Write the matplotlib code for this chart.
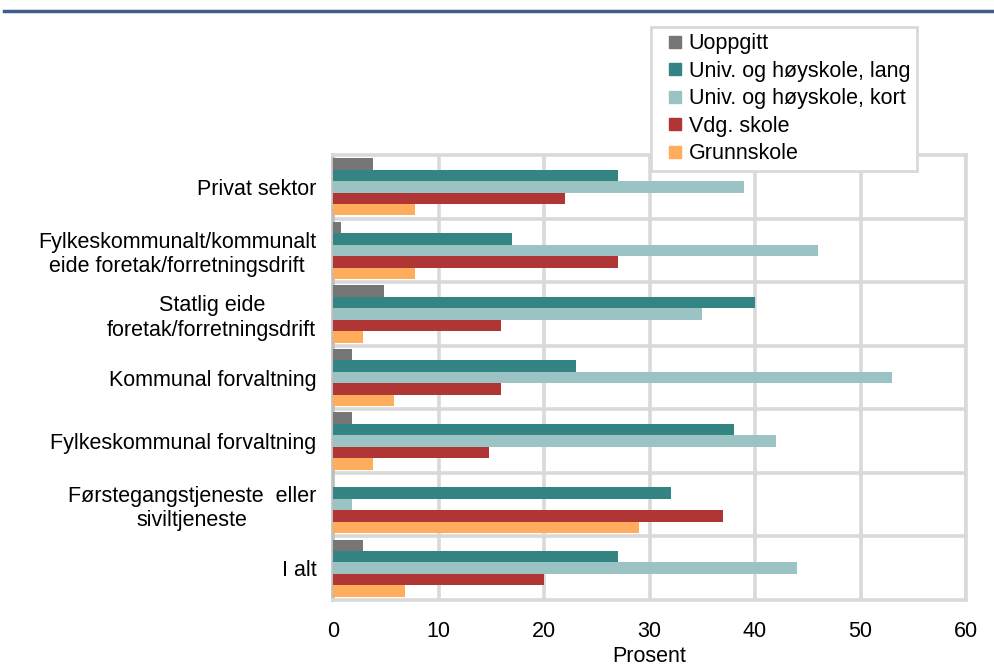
import matplotlib
matplotlib.use("Agg")
import matplotlib.pyplot as plt
from matplotlib.lines import Line2D
import numpy as np

plt.rcParams["font.family"] = ["Liberation Sans", "DejaVu Sans"]

categories = [
    "Privat sektor",
    "Fylkeskommunalt/kommunalt\neide foretak/forretningsdrift",
    "Statlig eide\nforetak/forretningsdrift",
    "Kommunal forvaltning",
    "Fylkeskommunal forvaltning",
    "Førstegangstjeneste  eller\nsiviltjeneste",
    "I alt",
]

series_names = [
    "Uoppgitt",
    "Univ. og høyskole, lang",
    "Univ. og høyskole, kort",
    "Vdg. skole",
    "Grunnskole",
]

uoppgitt = [3.8, 0.8, 4.8, 1.8, 1.8, 0.0, 2.8]
univ_lang = [27.0, 17.0, 40.0, 23.0, 38.0, 32.0, 27.0]
univ_kort = [39.0, 46.0, 35.0, 53.0, 42.0, 1.8, 44.0]
vdg_skole = [22.0, 27.0, 15.9, 15.9, 14.8, 37.0, 20.0]
grunnskole = [7.8, 7.8, 2.8, 5.8, 3.8, 29.0, 6.8]

colors = ["#767676", "#348484", "#9bc3c3", "#b03535", "#ffad5c"]
fs = 15.5

fig = plt.figure(figsize=(9.95, 6.70), dpi=100)
ax = fig.add_axes([333 / 995, 1 - 600 / 670, 633 / 995, 445 / 670])

y = np.arange(len(categories))
h = 0.18
all_series = [uoppgitt, univ_lang, univ_kort, vdg_skole, grunnskole]
for k, (vals, col, name) in enumerate(zip(all_series, colors, series_names)):
    ax.barh(y + (k - 2) * h, vals, height=h, color=col, label=name, zorder=3)

ax.set_xlim(0, 60)
ax.set_ylim(len(categories) - 0.5, -0.5)
ax.set_xticks(range(0, 61, 10))
ax.set_yticks(y)
ax.set_yticklabels(categories, fontsize=fs, multialignment="center")
ax.tick_params(axis="y", length=0, pad=12)
ax.tick_params(axis="x", length=0, pad=15, labelsize=fs)
ax.set_xlabel("Prosent", fontsize=fs, labelpad=3)

grid_col = "#d9d9d9"
ax.grid(axis="x", color=grid_col, linewidth=2.6, zorder=1)
for i in range(len(categories) - 1):
    ax.axhline(i + 0.5, color=grid_col, linewidth=2.6, zorder=1)
for s in ["top", "right", "bottom"]:
    ax.spines[s].set_color(grid_col)
    ax.spines[s].set_linewidth(2.6)
ax.spines["left"].set_color("#bfbfbf")
ax.spines["left"].set_linewidth(2.6)

# square legend markers
handles = [Line2D([], [], linestyle="none", marker="s", markersize=9,
                  markerfacecolor=c, markeredgecolor=c) for c in colors]
leg = fig.legend(
    handles=handles,
    labels=series_names,
    loc="upper left",
    bbox_to_anchor=(651 / 995, 1 - 27 / 670),
    fontsize=fs,
    handlelength=1.6,
    handletextpad=-0.15,
    labelspacing=0.3,
    borderpad=0.3,
    borderaxespad=0,
    fancybox=False,
    framealpha=1,
)
leg.get_frame().set_edgecolor(grid_col)
leg.get_frame().set_linewidth(2)

# blue rule under the (cut-off) title
fig.add_artist(Line2D([4 / 995, 1.0], [1 - 11 / 670, 1 - 11 / 670],
                      color="#3f5f8a", linewidth=2.5))

fig.savefig("out.png", dpi=100)
